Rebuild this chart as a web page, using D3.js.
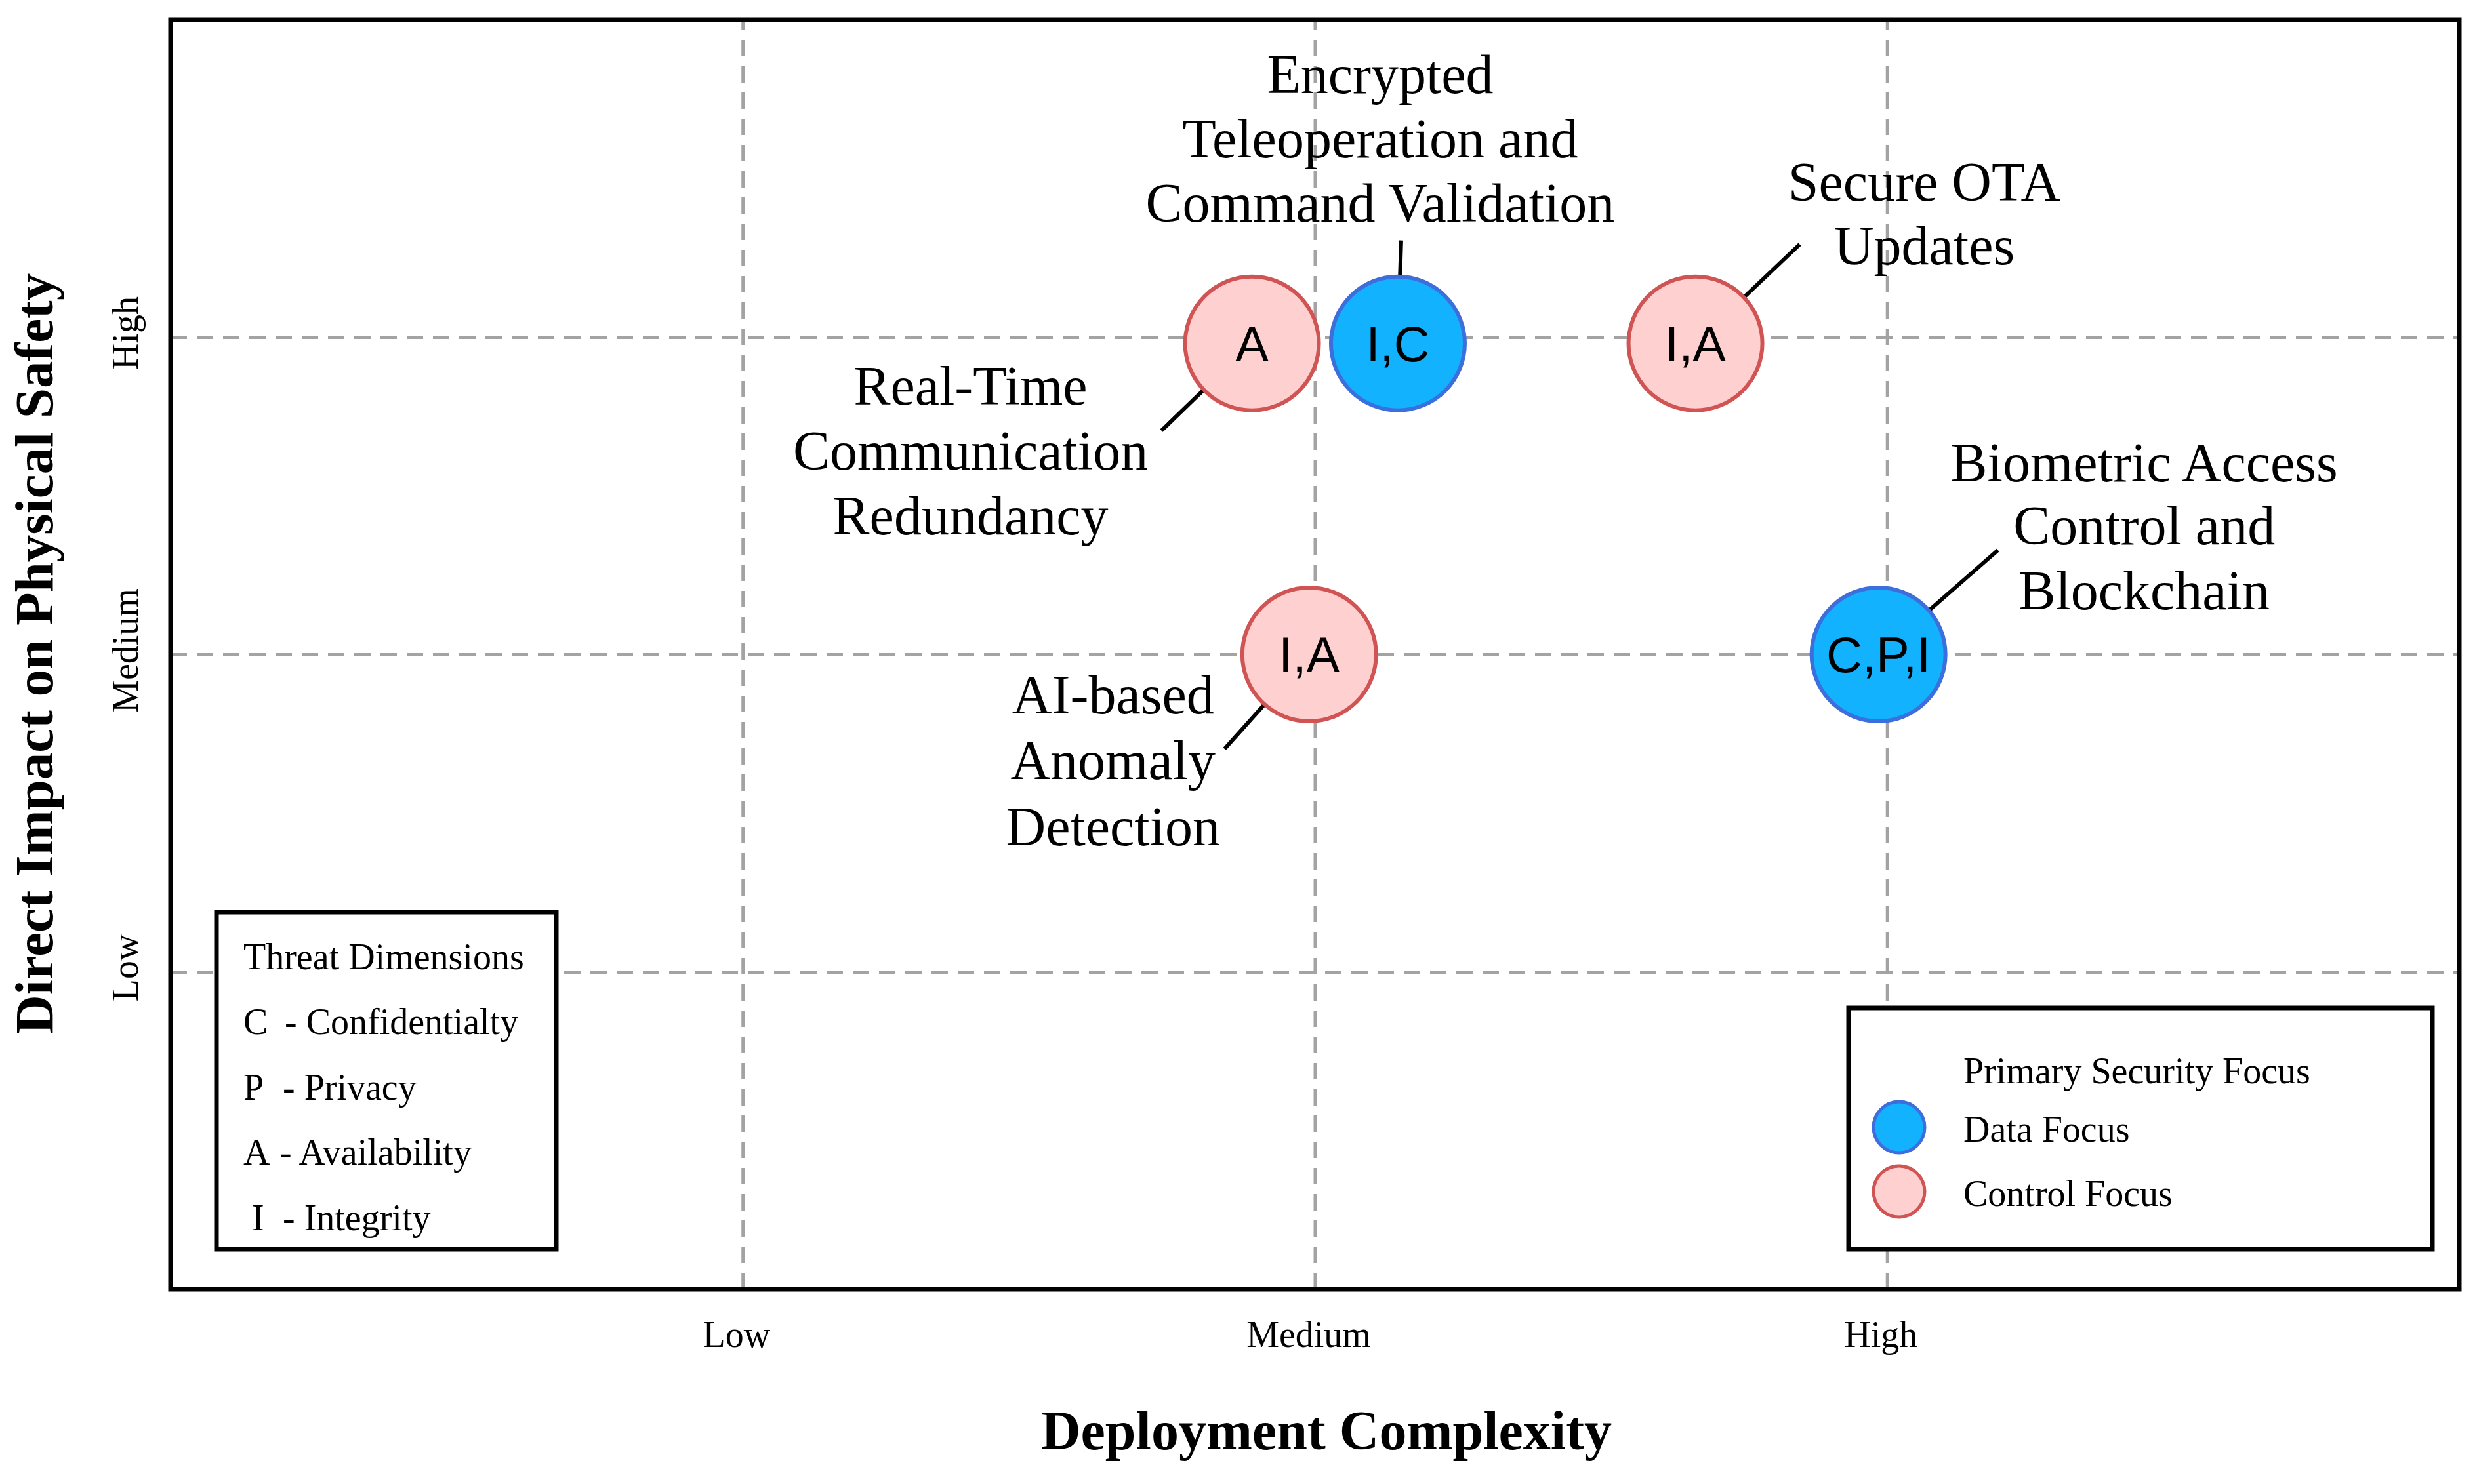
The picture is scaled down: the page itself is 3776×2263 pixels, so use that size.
<!DOCTYPE html>
<html>
<head>
<meta charset="utf-8">
<script src="https://cdn.jsdelivr.net/npm/d3@7"></script>
<style>
  html, body { margin: 0; padding: 0; background: #ffffff; }
  svg { display: block; }
</style>
</head>
<body>
<svg id="chart" width="3776" height="2263"></svg>
<script>
// ---------------- DATA ----------------
const controls = [
  "Real-Time Communication Redundancy",
  "Encrypted Teleoperation and Command Validation",
  "Secure OTA Updates",
  "AI-based Anomaly Detection",
  "Biometric Access Control and Blockchain"
];
const labelLines = [
  ["Real-Time", "Communication", "Redundancy"],
  ["Encrypted", "Teleoperation and", "Command Validation"],
  ["Secure OTA", "Updates"],
  ["AI-based", "Anomaly", "Detection"],
  ["Biometric Access", "Control and", "Blockchain"]
];
const complexity = [1.89, 2.145, 2.665, 1.99, 2.985];   // Deployment Complexity (1=Low,2=Medium,3=High)
const impact     = [2.98, 2.98, 2.98, 2.0, 2.0];         // Direct Impact on Physical Safety
const dimensions = ["A", "I,C", "I,A", "I,A", "C,P,I"];
const focus      = ["Control", "Data", "Control", "Control", "Data"];

const xTickValues = [1, 2, 3];
const xTickLabels = ["Low", "Medium", "High"];
const yTickValues = [1, 2, 3];
const yTickLabels = ["Low", "Medium", "High"];

const threatTitle = "Threat Dimensions";
const threatKeys  = ["C", "P", "A", "I"];
const threatNames = ["- Confidentialty", "- Privacy", "- Availability", "- Integrity"];

const focusTitle  = "Primary Security Focus";
const focusKeys   = ["Data", "Control"];
const focusNames  = ["Data Focus", "Control Focus"];

// ---------------- LAYOUT / STYLE ----------------
const W = 3776, H = 2263;
const frame = { left: 260, right: 3749, top: 30, bottom: 1966 };
const serif = "'Liberation Serif', 'Times New Roman', serif";
const sans  = "'Liberation Sans', Arial, sans-serif";
const fills   = { Data: "#12b2fe", Control: "#ffd0d0" };
const strokes = { Data: "#3d6fdc", Control: "#d05454" };
const R = 102;

// annotation placement (pixel offsets from each bubble centre)
const annot = [
  { lx: -138, ly: 133, tx: -429, ty: [93, 192, 291] },
  { lx: 5,    ly: -157, tx: -27, ty: [-382, -284, -186] },
  { lx: 159,  ly: -151, tx: 349, ty: [-218, -121] },
  { lx: -129, ly: 144, tx: -299, ty: [90, 190, 291] },
  { lx: 182,  ly: -159, tx: 405, ty: [-264, -168, -69] }
];

const svg = d3.select("#chart");
svg.append("rect").attr("width", W).attr("height", H).attr("fill", "#fff");

const x = d3.scaleLinear().domain([0, 4]).range([frame.left, frame.right]);
const y = d3.scaleLinear().domain([0, 4]).range([frame.bottom, frame.top]);

// ---------- grid lines (via axes) ----------
const gridStyle = g => {
  g.select(".domain").remove();
  g.selectAll(".tick line")
    .attr("stroke", "#a3a3a3")
    .attr("stroke-width", 5)
    .attr("stroke-dasharray", "25,15");
  g.selectAll(".tick text").remove();
};
svg.append("g")
  .attr("transform", `translate(0,${frame.bottom})`)
  .call(d3.axisBottom(x).tickValues(xTickValues).tickSize(-(frame.bottom - frame.top)).tickFormat(""))
  .call(gridStyle);
svg.append("g")
  .attr("transform", `translate(${frame.left},0)`)
  .call(d3.axisLeft(y).tickValues(yTickValues).tickSize(-(frame.right - frame.left)).tickFormat(""))
  .call(gridStyle);

// ---------- frame ----------
svg.append("rect")
  .attr("x", frame.left).attr("y", frame.top)
  .attr("width", frame.right - frame.left).attr("height", frame.bottom - frame.top)
  .attr("fill", "none").attr("stroke", "#000").attr("stroke-width", 7);

// ---------- x tick labels ----------
const xAx = svg.append("g")
  .attr("transform", `translate(-10,${frame.bottom})`)
  .call(d3.axisBottom(x).tickValues(xTickValues).tickSize(0).tickPadding(48)
        .tickFormat((d, i) => xTickLabels[i]));
xAx.select(".domain").remove();
xAx.selectAll(".tick text")
  .attr("font-family", serif).attr("font-size", 56).attr("fill", "#000");

// ---------- y tick labels (rotated) ----------
svg.append("g").selectAll("text")
  .data(yTickValues)
  .join("text")
  .attr("transform", d => `translate(210,${y(d) - 6}) rotate(-90)`)
  .attr("text-anchor", "middle")
  .attr("font-family", serif).attr("font-size", 56).attr("fill", "#000")
  .text((d, i) => yTickLabels[i]);

// ---------- axis titles ----------
svg.append("text")
  .attr("x", 2022).attr("y", 2210)
  .attr("text-anchor", "middle")
  .attr("font-family", serif).attr("font-weight", "bold").attr("font-size", 84)
  .text("Deployment Complexity");
svg.append("text")
  .attr("transform", "translate(80,997) rotate(-90)")
  .attr("text-anchor", "middle")
  .attr("font-family", serif).attr("font-weight", "bold").attr("font-size", 83)
  .text("Direct Impact on Physical Safety");

// ---------- bubbles ----------
const pts = controls.map((c, i) => ({
  name: c, cx: x(complexity[i]), cy: y(impact[i]),
  dim: dimensions[i], focus: focus[i], lines: labelLines[i], a: annot[i]
}));

// connector lines
svg.append("g").selectAll("line")
  .data(pts)
  .join("line")
  .each(function (d) {
    const len = Math.hypot(d.a.lx, d.a.ly);
    const ux = d.a.lx / len, uy = d.a.ly / len;
    d3.select(this)
      .attr("x1", d.cx + ux * R).attr("y1", d.cy + uy * R)
      .attr("x2", d.cx + d.a.lx).attr("y2", d.cy + d.a.ly);
  })
  .attr("stroke", "#000").attr("stroke-width", 6);

const bub = svg.append("g").selectAll("g")
  .data(pts)
  .join("g")
  .attr("transform", d => `translate(${d.cx},${d.cy})`);
bub.append("circle")
  .attr("r", R)
  .attr("fill", d => fills[d.focus])
  .attr("stroke", d => strokes[d.focus])
  .attr("stroke-width", 6);
bub.append("text")
  .attr("text-anchor", "middle")
  .attr("dy", "0.36em")
  .attr("font-family", sans).attr("font-size", 76).attr("fill", "#000")
  .text(d => d.dim);

// labels
const lab = svg.append("g").selectAll("text")
  .data(pts)
  .join("text")
  .attr("text-anchor", "middle")
  .attr("font-family", serif).attr("font-size", 84).attr("fill", "#000");
lab.selectAll("tspan")
  .data(d => d.lines.map((l, k) => ({ l, x: d.cx + d.a.tx, y: d.cy + d.a.ty[k] })))
  .join("tspan")
  .attr("x", d => d.x).attr("y", d => d.y)
  .text(d => d.l);

// ---------- Threat Dimensions legend ----------
const tb = { x: 330, y: 1391, w: 518, h: 514 };
const tg = svg.append("g");
tg.append("rect")
  .attr("x", tb.x).attr("y", tb.y).attr("width", tb.w).attr("height", tb.h)
  .attr("fill", "#fff").attr("stroke", "#000").attr("stroke-width", 7);
tg.append("text")
  .attr("x", 371).attr("y", 1478)
  .attr("font-family", serif).attr("font-size", 56)
  .text(threatTitle);
const tRows = tg.selectAll("g.row")
  .data(threatKeys.map((k, i) => ({ k, n: threatNames[i], i })))
  .join("g").attr("class", "row")
  .attr("transform", d => `translate(0,${1577 + d.i * 99.5})`);
tRows.append("text")
  .attr("x", d => d.k === "I" ? 384 : 371)
  .attr("font-family", serif).attr("font-size", 56)
  .text(d => d.k);
tRows.append("text")
  .attr("x", d => d.k === "C" ? 434 : (d.k === "A" ? 426 : 431))
  .attr("font-family", serif).attr("font-size", 56)
  .text(d => d.n);

// ---------- Primary Security Focus legend ----------
const fb = { x: 2818, y: 1537, w: 890, h: 368 };
const fg = svg.append("g");
fg.append("rect")
  .attr("x", fb.x).attr("y", fb.y).attr("width", fb.w).attr("height", fb.h)
  .attr("fill", "#fff").attr("stroke", "#000").attr("stroke-width", 7);
fg.append("text")
  .attr("x", 2993).attr("y", 1652)
  .attr("font-family", serif).attr("font-size", 56)
  .text(focusTitle);
const fRows = fg.selectAll("g.row")
  .data(focusKeys.map((k, i) => ({ k, n: focusNames[i], i })))
  .join("g").attr("class", "row")
  .attr("transform", d => `translate(0,${1719 + d.i * 98})`);
fRows.append("circle")
  .attr("cx", 2895).attr("r", 39)
  .attr("fill", d => fills[d.k]).attr("stroke", d => strokes[d.k]).attr("stroke-width", 5);
fRows.append("text")
  .attr("x", 2993).attr("y", 22)
  .attr("font-family", serif).attr("font-size", 56)
  .text(d => d.n);
</script>
</body>
</html>
